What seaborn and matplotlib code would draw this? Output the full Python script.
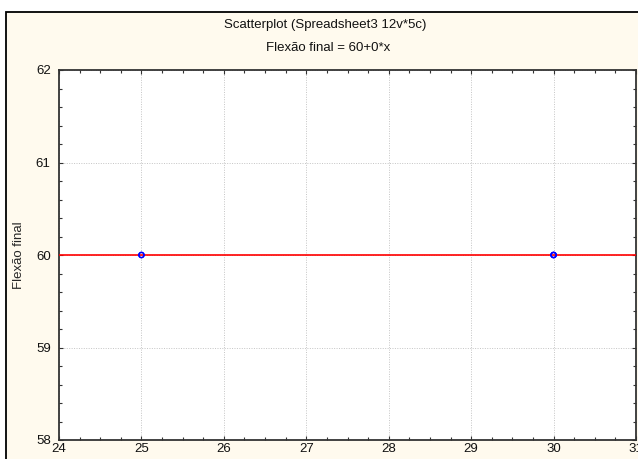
import numpy as np
import pandas as pd
import matplotlib
matplotlib.use("Agg")
import matplotlib.pyplot as plt
from matplotlib.patches import Rectangle
from matplotlib.ticker import MultipleLocator
import seaborn as sns

# Data
x_vals = [25, 25, 30, 30, 30]
y_vals = [60, 60, 60, 60, 60]
title = "Scatterplot (Spreadsheet3 12v*5c)"
subtitle = "Flexão final = 60+0*x"
y_label = "Flexão final"
x_ticks = [24, 25, 26, 27, 28, 29, 30, 31]
y_ticks = [58, 59, 60, 61, 62]

df = pd.DataFrame({"x": x_vals, "y": y_vals})

sns.set_theme(style="white")
plt.rcParams["font.family"] = ["Liberation Sans", "DejaVu Sans"]

W, H = 638, 459
fig = plt.figure(figsize=(W / 100, H / 100), dpi=100, facecolor="white")

# cream panel with black border on top/left (extends past right/bottom edges)
panel = Rectangle((6 / W, -0.2), 1.5, 1.2 - 12 / H, transform=fig.transFigure,
                  facecolor="#FFFAEE", edgecolor="black", linewidth=1.3,
                  zorder=-10, clip_on=False)
fig.patches.append(panel)

left, right, top, bottom = 59, 636, 70, 440
ax = fig.add_axes([left / W, 1 - bottom / H, (right - left) / W, (bottom - top) / H])
ax.set_zorder(1)
ax.set_facecolor("white")

ax.set_xlim(x_ticks[0], x_ticks[-1])
ax.set_ylim(y_ticks[0], y_ticks[-1])

sns.regplot(data=df, x="x", y="y", ax=ax, scatter=False, ci=None, truncate=False,
            line_kws=dict(color="#FF0000", linewidth=1.2, zorder=3))
sns.scatterplot(data=df, x="x", y="y", ax=ax, marker="o", s=14,
                facecolor="none", edgecolor="#0000FF", linewidth=1.0, zorder=4)

ax.set_xticks(x_ticks)
ax.set_yticks(y_ticks)
ax.xaxis.set_minor_locator(MultipleLocator(0.25))
ax.yaxis.set_minor_locator(MultipleLocator(0.2))
ax.tick_params(which="both", direction="in", top=True, right=True,
               bottom=True, left=True, colors="#333333", labelcolor="#111111",
               labelsize=9.5)
ax.tick_params(which="major", length=3, width=0.8)
ax.tick_params(which="minor", length=2.5, width=0.8)
ax.tick_params(axis="x", pad=2)
ax.tick_params(axis="y", pad=6)
ax.grid(True, which="major", color="#C4C4C4", linestyle=(0, (1, 1.5)), linewidth=0.7)
ax.set_axisbelow(True)

for s in ax.spines.values():
    s.set_color("#333333")
    s.set_linewidth(1.3)
    s.set_visible(True)

ax.set_xlabel("")
ax.set_ylabel(y_label, fontsize=9.5, labelpad=8)

fig.text(0.51, 1 - 25 / H, title, ha="center", va="center", fontsize=9.5, color="#111111")
fig.text(0.514, 1 - 48 / H, subtitle, ha="center", va="center", fontsize=9.5, color="#111111")

fig.savefig("out.png", dpi=100, facecolor="white")
